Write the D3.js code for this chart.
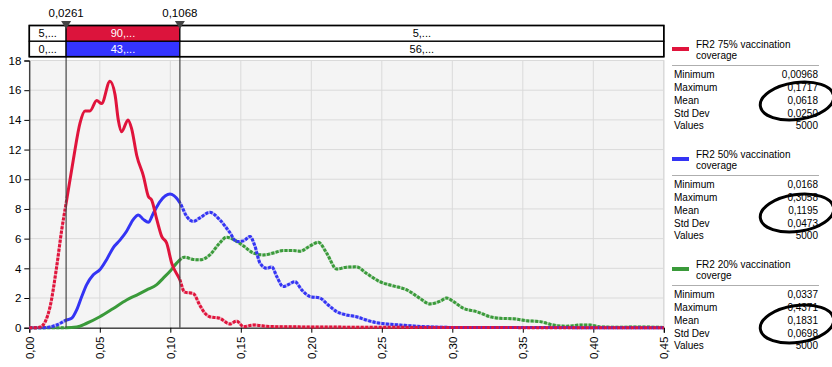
<!doctype html>
<html>
<head>
<meta charset="utf-8">
<script src="https://cdnjs.cloudflare.com/ajax/libs/d3/7.8.5/d3.min.js"></script>
<style>
  body { margin: 0; background: #fff; }
  svg { display: block; font-family: "Liberation Sans", Arial, sans-serif; }
</style>
</head>
<body>
<svg id="chart" width="832" height="367"></svg>
<script>
// density curves, [x, density]
var fr75 = [[0,0],[0.005,0],[0.008,0.05],[0.0147,1.4],[0.0194,4.1],[0.023,6.6],[0.0265,8.6],[0.0312,11.3],[0.036,13.8],[0.0395,14.6],[0.043,14.6],[0.0478,15.3],[0.0513,15.1],[0.0572,16.6],[0.0608,15.7],[0.0631,14.0],[0.0655,13.2],[0.070,14.0],[0.0726,13.4],[0.0762,11.6],[0.081,10.2],[0.0844,8.85],[0.0868,8.6],[0.0904,7.3],[0.0939,6.15],[0.0974,5.7],[0.101,4.35],[0.1069,3.2],[0.110,2.4],[0.1163,2.3],[0.121,1.5],[0.1246,0.97],[0.128,0.74],[0.135,0.64],[0.1423,0.25],[0.147,0.45],[0.152,0.07],[0.159,0.18],[0.17,0.08],[0.2,0.05],[0.25,0.03],[0.3,0.01],[0.45,0]];
var fr50 = [[0,0],[0.01,0],[0.0194,0.18],[0.0265,0.52],[0.030,0.63],[0.0336,1.2],[0.0372,2.1],[0.0407,2.9],[0.0454,3.56],[0.050,3.9],[0.0549,4.6],[0.0596,5.4],[0.0643,5.9],[0.069,6.5],[0.0738,7.3],[0.0773,7.6],[0.0809,7.3],[0.0844,7.1],[0.0879,7.7],[0.0927,8.5],[0.0998,9.0],[0.1069,8.4],[0.1116,7.5],[0.1163,7.16],[0.121,7.4],[0.128,7.77],[0.135,7.28],[0.1423,6.4],[0.147,5.8],[0.152,5.85],[0.1565,6.15],[0.160,5.5],[0.1636,4.35],[0.1684,4.0],[0.172,4.1],[0.1755,3.45],[0.180,2.77],[0.1837,2.9],[0.1884,3.1],[0.1932,2.55],[0.199,2.1],[0.206,2.0],[0.212,1.53],[0.218,1.08],[0.225,0.86],[0.232,0.74],[0.239,0.52],[0.246,0.34],[0.2535,0.25],[0.263,0.18],[0.275,0.1],[0.286,0.05],[0.3,0.02],[0.45,0]];
var fr20 = [[0,0],[0.025,0],[0.0336,0.05],[0.0407,0.3],[0.050,0.74],[0.0596,1.3],[0.069,1.87],[0.0762,2.2],[0.0833,2.55],[0.0904,2.9],[0.095,3.34],[0.0998,3.8],[0.1045,4.35],[0.110,4.75],[0.1163,4.6],[0.121,4.57],[0.128,4.9],[0.135,5.7],[0.140,6.1],[0.1447,5.95],[0.152,5.5],[0.1589,5.03],[0.166,4.9],[0.173,5.03],[0.180,5.2],[0.187,5.2],[0.192,5.15],[0.199,5.5],[0.205,5.75],[0.211,5.0],[0.218,3.95],[0.225,4.08],[0.232,4.1],[0.239,3.67],[0.2486,3.1],[0.258,2.82],[0.2677,2.55],[0.277,1.98],[0.284,1.6],[0.291,1.77],[0.296,2.0],[0.3007,1.77],[0.3078,1.31],[0.3173,1.08],[0.3267,0.74],[0.3338,0.63],[0.3433,0.6],[0.3528,0.47],[0.3622,0.41],[0.3716,0.18],[0.381,0.1],[0.3906,0.18],[0.3977,0.18],[0.405,0.05],[0.42,0.03],[0.43,0.05],[0.45,0.02]];

var seriesNames = [["FR2 75% vaccination", "coverage"], ["FR2 50% vaccination", "coverage"], ["FR2 20% vaccination", "coverge"]];
var seriesColors = ["#e0143c", "#3434f4", "#3a9a3a"];
var statLabels = ["Minimum", "Maximum", "Mean", "Std Dev", "Values"];
var stats75 = ["0,00968", "0,1717", "0,0618", "0,0250", "5000"];
var stats50 = ["0,0168", "0,3058", "0,1195", "0,0473", "5000"];
var stats20 = ["0,0337", "0,4371", "0,1831", "0,0698", "5000"];

var markers = [0.0261, 0.1068];
var markerLabels = ["0,0261", "0,1068"];
var bandRow1 = ["5,...", "90,...", "5,..."];
var bandRow2 = ["0,...", "43,...", "56,..."];

var xTicks = d3.range(0, 0.4501, 0.05);
var yTicks = d3.range(0, 19, 2);

var svg = d3.select("#chart");
var x = d3.scaleLinear().domain([0, 0.45]).range([29.3, 663.8]);
var y = d3.scaleLinear().domain([0, 18]).range([327.7, 60.5]);
var loc = d3.formatLocale({decimal: ",", thousands: ".", grouping: [3], currency: ["", ""]});
var f2 = loc.format(".2f");

// plot background + grid
svg.append("rect").attr("x", x(0)).attr("y", y(18)).attr("width", x(0.45) - x(0)).attr("height", y(0) - y(18))
    .attr("fill", "#f4f4f4").attr("stroke", "#d0d0d0");
svg.append("g").selectAll("line").data(xTicks.slice(1)).enter().append("line")
    .attr("x1", function(d) { return x(d); }).attr("x2", function(d) { return x(d); })
    .attr("y1", y(18)).attr("y2", y(0)).attr("stroke", "#dadada");
svg.append("g").selectAll("line").data(yTicks.slice(1)).enter().append("line")
    .attr("x1", x(0)).attr("x2", x(0.45))
    .attr("y1", function(d) { return y(d); }).attr("y2", function(d) { return y(d); })
    .attr("stroke", "#dadada");

// axes
var yAxis = svg.append("g").attr("transform", "translate(" + x(0) + ",0)")
    .call(d3.axisLeft(y).tickValues(yTicks).tickSize(5).tickPadding(3));
yAxis.selectAll("text").style("font-size", "11.5px").attr("fill", "#000");
var xAxis = svg.append("g").attr("transform", "translate(0," + y(0) + ")")
    .call(d3.axisBottom(x).tickValues(xTicks).tickFormat(f2).tickSize(5));
xAxis.selectAll("text").style("font-size", "11.5px").attr("fill", "#000")
    .attr("transform", "rotate(-90)").attr("text-anchor", "end")
    .attr("x", -9).attr("y", 0).attr("dy", "0.35em");
svg.selectAll(".domain").attr("stroke", "#000");

// clip paths: inside the marker band solid, outside dashed
var defs = svg.append("defs");
defs.append("clipPath").attr("id", "inside").append("rect")
    .attr("x", x(markers[0])).attr("y", 0).attr("width", x(markers[1]) - x(markers[0])).attr("height", 367);
var outClip = defs.append("clipPath").attr("id", "outside");
outClip.append("rect").attr("x", 0).attr("y", 0).attr("width", x(markers[0])).attr("height", 367);
outClip.append("rect").attr("x", x(markers[1])).attr("y", 0).attr("width", 832 - x(markers[1])).attr("height", 367);

var line = d3.line()
    .x(function(d) { return x(d[0]); })
    .y(function(d) { return y(d[1]); })
    .curve(d3.curveMonotoneX);

var allSeries = [fr20, fr50, fr75];
var allColors = [seriesColors[2], seriesColors[1], seriesColors[0]];
allSeries.forEach(function(s, i) {
    var g = svg.append("g");
    g.append("path").attr("d", line(s)).attr("clip-path", "url(#outside)")
        .attr("fill", "none").attr("stroke", allColors[i]).attr("stroke-opacity", 0.35).attr("stroke-width", 3);
    g.append("path").attr("d", line(s)).attr("clip-path", "url(#outside)")
        .attr("fill", "none").attr("stroke", allColors[i]).attr("stroke-width", 3).attr("stroke-dasharray", "3,1.5");
    g.append("path").attr("d", line(s)).attr("clip-path", "url(#inside)")
        .attr("fill", "none").attr("stroke", allColors[i]).attr("stroke-width", 3).attr("stroke-linejoin", "round");
});

// marker lines
svg.append("g").selectAll("line").data(markers).enter().append("line")
    .attr("x1", function(d) { return x(d); }).attr("x2", function(d) { return x(d); })
    .attr("y1", 26).attr("y2", y(0))
    .attr("stroke", "#444").attr("stroke-width", 1.2);

// band table at top
var bandY = [25.5, 41.3, 56.7];
var cuts = [0, markers[0], markers[1], 0.45];
var rowFills = [["#fff", "#dc143c", "#fff"], ["#fff", "#3434ff", "#fff"]];
[bandRow1, bandRow2].forEach(function(row, r) {
    row.forEach(function(t, c) {
        var x0 = x(cuts[c]), x1 = x(cuts[c + 1]);
        svg.append("rect").attr("x", x0).attr("y", bandY[r]).attr("width", x1 - x0).attr("height", bandY[r + 1] - bandY[r])
            .attr("fill", rowFills[r][c]).attr("stroke", "#000").attr("stroke-width", 1.2);
        svg.append("text").attr("x", (x0 + x1) / 2).attr("y", (bandY[r] + bandY[r + 1]) / 2).attr("dy", "0.35em")
            .attr("text-anchor", "middle").style("font-size", "11px")
            .attr("fill", c === 1 ? "#fff" : "#000").text(t);
    });
});
svg.append("rect").attr("x", x(0)).attr("y", bandY[0]).attr("width", x(0.45) - x(0)).attr("height", bandY[2] - bandY[0])
    .attr("fill", "none").attr("stroke", "#000").attr("stroke-width", 1.6);

// marker triangles + labels
markers.forEach(function(m, i) {
    var mx = x(m);
    svg.append("path").attr("d", "M" + (mx - 5) + ",21 L" + (mx + 5) + ",21 L" + mx + ",29 Z").attr("fill", "#444");
    svg.append("text").attr("x", mx).attr("y", 17).attr("text-anchor", "middle")
        .style("font-size", "11.5px").text(markerLabels[i]);
});

// legend + stats panel
var allStats = [stats75, stats50, stats20];
var blockTop = [44, 154, 264];
var ellipses = [[797, 101], [797, 213], [797, 324]];
seriesNames.forEach(function(nm, i) {
    var b = blockTop[i];
    var g = svg.append("g").style("font-size", "10px");
    g.append("line").attr("x1", 672).attr("x2", 689).attr("y1", b + 5).attr("y2", b + 5)
        .attr("stroke", seriesColors[i]).attr("stroke-width", 4);
    g.append("text").attr("x", 696).attr("y", b).attr("dy", "0.35em").text(nm[0]);
    g.append("text").attr("x", 696).attr("y", b + 11).attr("dy", "0.35em").text(nm[1]);
    g.append("line").attr("x1", 672).attr("x2", 819).attr("y1", b + 21.5).attr("y2", b + 21.5)
        .attr("stroke", "#999").attr("stroke-width", 0.8);
    statLabels.forEach(function(l, k) {
        var ty = b + 30.5 + k * 12.85;
        g.append("text").attr("x", 674).attr("y", ty).attr("dy", "0.35em").text(l);
        g.append("text").attr("x", 818).attr("y", ty).attr("dy", "0.35em").attr("text-anchor", "end").text(allStats[i][k]);
    });
    // hand-drawn highlight around Mean / Std Dev
    svg.append("ellipse").attr("cx", ellipses[i][0]).attr("cy", ellipses[i][1]).attr("rx", 37).attr("ry", 18.5)
        .attr("transform", "rotate(-8," + ellipses[i][0] + "," + ellipses[i][1] + ")")
        .attr("fill", "none").attr("stroke", "#000").attr("stroke-width", 3);
});
</script>
</body>
</html>
